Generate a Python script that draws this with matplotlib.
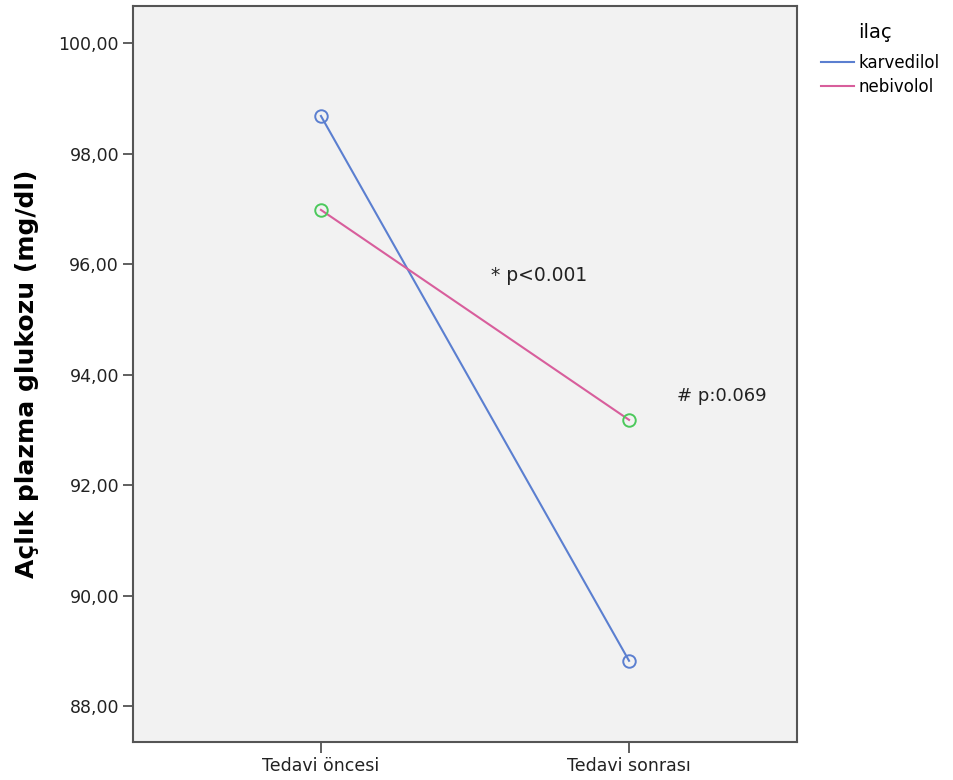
import matplotlib
matplotlib.use("Agg")
import matplotlib.pyplot as plt
from matplotlib.ticker import FuncFormatter

# mean fasting plasma glucose before / after treatment
periods = ["Tedavi öncesi", "Tedavi sonrası"]
karvedilol = [98.68, 88.82]
nebivolol = [96.98, 93.18]
yticks = [88, 90, 92, 94, 96, 98, 100]

fig = plt.figure(figsize=(9.54, 7.8), dpi=100)
ax = fig.add_axes([0.1394, 0.0487, 0.696, 0.9436])
ax.set_facecolor("#f2f2f2")

x = range(len(periods))
ax.plot(x, karvedilol, color="#5b7fd0", lw=1.5, label="karvedilol", zorder=2)
ax.plot(x, karvedilol, ls="none", marker="o", ms=9, mfc="none", mec="#5b7fd0", mew=1.4, zorder=3)
ax.plot(x, nebivolol, color="#d85e9c", lw=1.5, label="nebivolol", zorder=2)
ax.plot(x, nebivolol, ls="none", marker="o", ms=9, mfc="none", mec="#4cc95c", mew=1.4, zorder=3)

ax.set_xlim(-0.61, 1.545)
ax.set_ylim(87.35, 100.67)
ax.set_xticks(list(x))
ax.set_xticklabels(periods, fontsize=12.5, color="#222222")
ax.set_yticks(yticks)
ax.yaxis.set_major_formatter(FuncFormatter(lambda v, p: f"{v:.2f}".replace(".", ",")))
ax.tick_params(axis="y", labelsize=12.5, labelcolor="#222222", length=7, width=1.2,
               color="#444444", pad=3)
ax.tick_params(axis="x", length=8, width=1.2, color="#444444", pad=3)
for s in ax.spines.values():
    s.set_color("#555555")
    s.set_linewidth(1.5)

ax.set_ylabel("Açlık plazma glukozu (mg/dl)", fontsize=18, fontweight="bold", labelpad=14)

ax.text(0.552, 95.80, "* p<0.001", fontsize=13.5, va="center", ha="left", color="#222222")
ax.text(1.156, 93.61, "# p:0.069", fontsize=13, va="center", ha="left", color="#222222")

# legend: title placed over the labels, entries below
fig.text(858 / 954, 1 - 32 / 780, "ilaç", fontsize=14, va="center", ha="left")
fig.legend(loc="upper left", bbox_to_anchor=(821 / 954, 1 - 54 / 780),
           frameon=False, fontsize=12, handlelength=2.0, handletextpad=0.25,
           labelspacing=0.35, borderaxespad=0, borderpad=0)

fig.savefig("out.png", dpi=100)
